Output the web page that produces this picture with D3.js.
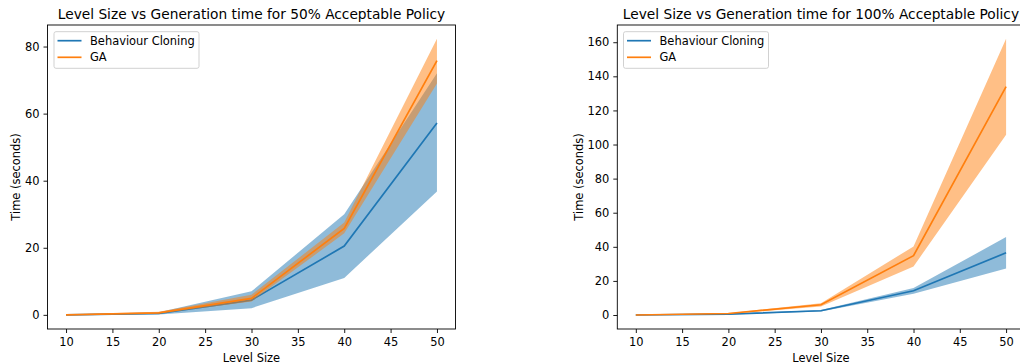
<!DOCTYPE html>
<html>
<head>
<meta charset="utf-8">
<script src="https://cdn.jsdelivr.net/npm/d3@7"></script>
<style>
body { margin: 0; background: #fff; overflow: hidden; }
svg { display: block; font-family: "DejaVu Sans", sans-serif; }
</style>
</head>
<body>
<svg id="chart" width="1020" height="364"></svg>
<script>
const levelSizes = [10, 20, 30, 40, 50];
const xTicks = [10, 15, 20, 25, 30, 35, 40, 45, 50];
const seriesNames = ["Behaviour Cloning", "GA"];
const seriesColors = ["#1f77b4", "#ff7f0e"];

// 50% acceptable policy
const bc50Mean = [0.0, 0.4, 4.4, 20.5, 57.2];
const bc50Lower = [-0.1, 0.1, 2.0, 11.0, 36.8];
const bc50Upper = [0.1, 0.8, 7.0, 30.0, 72.0];
const ga50Mean = [0.0, 0.6, 4.9, 25.8, 75.8];
const ga50Lower = [-0.1, 0.4, 4.0, 24.3, 69.0];
const ga50Upper = [0.1, 0.9, 6.0, 27.5, 82.3];
const yTicks50 = [0, 20, 40, 60, 80];

// 100% acceptable policy
const bc100Mean = [0.0, 0.5, 2.5, 14.2, 36.5];
const bc100Lower = [-0.1, 0.3, 2.0, 12.5, 27.3];
const bc100Upper = [0.1, 0.7, 3.0, 15.8, 45.7];
const ga100Mean = [0.0, 0.9, 6.0, 34.8, 134.0];
const ga100Lower = [-0.1, 0.7, 5.0, 28.5, 105.7];
const ga100Upper = [0.1, 1.1, 6.9, 40.2, 162.0];
const yTicks100 = [0, 20, 40, 60, 80, 100, 120, 140, 160];

const svg = d3.select("#chart");
const FS = 11.45, TFS = 13.74;

function drawPanel(opts) {
  const { left, right, top, bottom, title, series, yTicks, legendLeft, ylabelX } = opts;
  const g = svg.append("g");
  const x = d3.scaleLinear().domain([8, 52]).range([left, right]);
  let lo = d3.min(series, s => d3.min(s.lower));
  let hi = d3.max(series, s => d3.max(s.upper));
  lo = Math.min(lo, 0);
  const pad = (hi - lo) * 0.05;
  const y = d3.scaleLinear().domain([lo - pad, hi + pad]).range([bottom, top]);

  const clipId = "clip" + Math.round(left);
  svg.append("clipPath").attr("id", clipId).append("rect")
    .attr("x", left).attr("y", top).attr("width", right - left).attr("height", bottom - top);
  const plot = g.append("g").attr("clip-path", `url(#${clipId})`);

  const area = d3.area().x((d, i) => x(levelSizes[i])).y0(d => y(d[0])).y1(d => y(d[1]));
  const line = d3.line().x((d, i) => x(levelSizes[i])).y(d => y(d));

  series.forEach((s, k) => {
    const pts = s.lower.map((v, i) => [v, s.upper[i]]);
    plot.append("path").attr("d", area(pts)).attr("fill", seriesColors[k]).attr("fill-opacity", 0.5);
    plot.append("path").attr("d", line(s.mean)).attr("fill", "none")
      .attr("stroke", seriesColors[k]).attr("stroke-width", 1.7);
  });

  const xAxis = d3.axisBottom(x).tickValues(xTicks).tickSize(4).tickPadding(4.5).tickFormat(d3.format("d"));
  const yAxis = d3.axisLeft(y).tickValues(yTicks).tickSize(4).tickPadding(4).tickFormat(d3.format("d"));
  const gx = g.append("g").attr("transform", `translate(0,${bottom})`).call(xAxis);
  const gy = g.append("g").attr("transform", `translate(${left},0)`).call(yAxis);
  [gx, gy].forEach(a => {
    a.select(".domain").remove();
    a.selectAll("line").attr("stroke", "#000").attr("stroke-width", 0.9);
    a.selectAll("text").attr("font-size", FS).attr("fill", "#000").attr("font-family", "DejaVu Sans");
  });

  g.append("rect").attr("x", left).attr("y", top).attr("width", right - left).attr("height", bottom - top)
    .attr("fill", "none").attr("stroke", "#000").attr("stroke-width", 0.9);

  g.append("text").attr("x", (left + right) / 2).attr("y", 18.5).attr("text-anchor", "middle")
    .attr("font-size", TFS).attr("fill", "#000").text(title);
  g.append("text").attr("x", (left + right) / 2).attr("y", 362).attr("text-anchor", "middle")
    .attr("font-size", FS).attr("fill", "#000").text("Level Size");
  g.append("text").attr("transform", `translate(${ylabelX},${(top + bottom) / 2}) rotate(-90)`)
    .attr("text-anchor", "middle").attr("font-size", FS).attr("fill", "#000").text("Time (seconds)");

  const lg = g.append("g").attr("transform", `translate(${legendLeft},31.7)`);
  lg.append("rect").attr("x", 0).attr("y", 0).attr("width", 145).attr("height", 36.6).attr("rx", 2)
    .attr("fill", "#fff").attr("fill-opacity", 0.8).attr("stroke", "#ccc").attr("stroke-width", 0.9);
  seriesNames.forEach((n, k) => {
    const yy = 9 + k * 16.6;
    lg.append("line").attr("x1", 3.5).attr("x2", 27.5).attr("y1", yy).attr("y2", yy)
      .attr("stroke", seriesColors[k]).attr("stroke-width", 1.7);
    lg.append("text").attr("x", 36).attr("y", yy + 4.2).attr("font-size", FS).attr("fill", "#000").text(n);
  });
}

drawPanel({
  left: 47.5, right: 455.5, top: 25, bottom: 329,
  title: "Level Size vs Generation time for 50% Acceptable Policy",
  series: [
    { mean: bc50Mean, lower: bc50Lower, upper: bc50Upper },
    { mean: ga50Mean, lower: ga50Lower, upper: ga50Upper }
  ],
  yTicks: yTicks50, legendLeft: 54, ylabelX: 20
});

drawPanel({
  left: 617.3, right: 1024.6, top: 25, bottom: 329,
  title: "Level Size vs Generation time for 100% Acceptable Policy",
  series: [
    { mean: bc100Mean, lower: bc100Lower, upper: bc100Upper },
    { mean: ga100Mean, lower: ga100Lower, upper: ga100Upper }
  ],
  yTicks: yTicks100, legendLeft: 623.5, ylabelX: 582.5
});
</script>
</body>
</html>
